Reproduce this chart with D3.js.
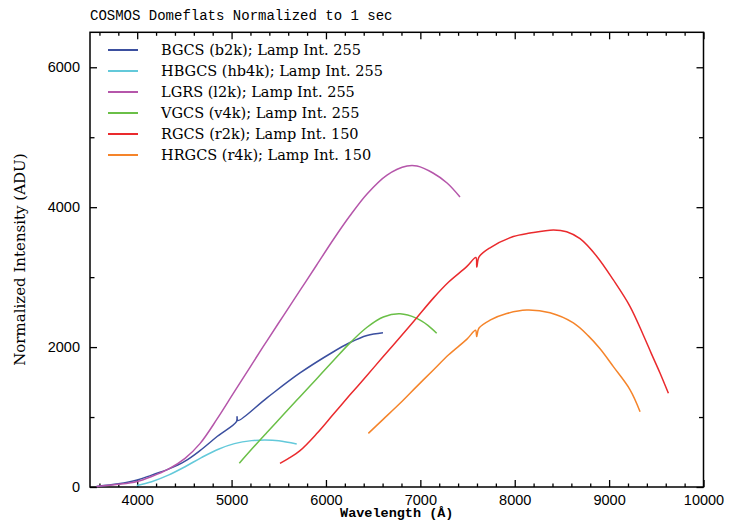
<!DOCTYPE html>
<html><head><meta charset="utf-8">
<script src="https://cdn.jsdelivr.net/npm/d3@7"></script>
<style>body{margin:0;background:#fff}svg{display:block}</style>
</head><body>
<svg id="c" width="737" height="527"></svg>
<script>
const title = "COSMOS Domeflats Normalized to 1 sec";
const xLabel = "Wavelength (Å)";
const yLabel = "Normalized Intensity (ADU)";
const xMajorTicks = [4000,5000,6000,7000,8000,9000,10000];
const yMajorTicks = [0,2000,4000,6000];

const seriesNames = [
  "BGCS (b2k); Lamp Int. 255",
  "HBGCS (hb4k); Lamp Int. 255",
  "LGRS (l2k); Lamp Int. 255",
  "VGCS (v4k); Lamp Int. 255",
  "RGCS (r2k); Lamp Int. 150",
  "HRGCS (r4k); Lamp Int. 150"
];
const seriesColors = ["#3b4f9f","#63c9da","#b556aa","#6abf47","#ea2a2d","#f5842a"];

// [wavelength, intensity]
const bgcs = [[3570,8],[3800,45],[4000,100],[4153,170],[4330,255],[4507,370],[4665,520],[4850,725],[5052,935],[5058,1005],[5066,950],[5375,1275],[5725,1630],[6075,1930],[6255,2065],[6435,2165],[6604,2205]];
const hbgcs = [[3995,20],[4153,76],[4330,170],[4507,290],[4680,420],[4860,540],[5030,620],[5213,663],[5354,672],[5500,662],[5690,615]];
const lgrs = [[3570,8],[3800,38],[4000,80],[4153,150],[4330,255],[4507,410],[4665,620],[4850,980],[5015,1330],[5200,1722],[5375,2090],[5550,2450],[5725,2810],[5900,3170],[6075,3531],[6250,3870],[6435,4190],[6647,4460],[6859,4589],[6965,4589],[7134,4489],[7283,4346],[7420,4146]];
const vgcs = [[5082,338],[5200,520],[5372,775],[5550,1035],[5725,1291],[5900,1545],[6075,1800],[6255,2060],[6432,2280],[6608,2430],[6785,2475],[6962,2410],[7080,2310],[7173,2197]];
const rgcs = [[5513,338],[5600,405],[5725,520],[5900,760],[6078,1040],[6250,1310],[6432,1590],[6600,1855],[6785,2140],[6962,2420],[7138,2700],[7300,2930],[7491,3150],[7588,3280],[7598,3140],[7622,3290],[7738,3420],[7985,3580],[8162,3630],[8409,3675],[8550,3650],[8692,3550],[8868,3300],[9045,2960],[9222,2580],[9363,2170],[9450,1900],[9539,1630],[9628,1340]];
const hrgcs = [[6449,767],[6600,960],[6785,1196],[6960,1435],[7138,1673],[7300,1890],[7491,2110],[7585,2240],[7597,2150],[7620,2270],[7738,2385],[7915,2480],[8127,2530],[8374,2490],[8621,2345],[8780,2160],[8904,1975],[9045,1720],[9222,1390],[9328,1077]];
const seriesData = [bgcs, hbgcs, lgrs, vgcs, rgcs, hrgcs];

const svg = d3.select("#c");
const L = 90, R = 703.5, T = 32.3, B = 487;
const x = d3.scaleLinear().domain([3500,10000]).range([L,R]);
const y = d3.scaleLinear().domain([0,6500]).range([B,T]);

const xMinor = d3.range(3600,10000,200).filter(v=>v%1000!==0);
const yMinor = [1000,3000,5000];

function tickStyle(g){ g.select(".domain").remove(); g.selectAll("line").attr("stroke","#000").attr("stroke-width",1.3); }

// bottom
svg.append("g").attr("transform",`translate(0,${B})`)
  .call(d3.axisBottom(x).tickValues(xMajorTicks).tickSize(-7).tickPadding(8).tickFormat(d3.format("d")))
  .call(tickStyle)
  .call(g=>g.selectAll("text").attr("font-family","Liberation Sans, Arial, sans-serif").attr("font-size",14.5).attr("fill","#000"));
svg.append("g").attr("transform",`translate(0,${B})`)
  .call(d3.axisBottom(x).tickValues(xMinor).tickSize(-3.5).tickFormat(""))
  .call(tickStyle);
// top
svg.append("g").attr("transform",`translate(0,${T})`)
  .call(d3.axisTop(x).tickValues(xMajorTicks).tickSize(-7).tickFormat("")).call(tickStyle);
svg.append("g").attr("transform",`translate(0,${T})`)
  .call(d3.axisTop(x).tickValues(xMinor).tickSize(-3.5).tickFormat("")).call(tickStyle);
// left
svg.append("g").attr("transform",`translate(${L},0)`)
  .call(d3.axisLeft(y).tickValues(yMajorTicks).tickSize(-7).tickPadding(10).tickFormat(d3.format("d")))
  .call(tickStyle)
  .call(g=>g.selectAll("text").attr("font-family","Liberation Sans, Arial, sans-serif").attr("font-size",14.5).attr("fill","#000"));
svg.append("g").attr("transform",`translate(${L},0)`)
  .call(d3.axisLeft(y).tickValues(yMinor).tickSize(-4.5).tickFormat("")).call(tickStyle);
// right
svg.append("g").attr("transform",`translate(${R},0)`)
  .call(d3.axisRight(y).tickValues(yMajorTicks).tickSize(-7).tickFormat("")).call(tickStyle);
svg.append("g").attr("transform",`translate(${R},0)`)
  .call(d3.axisRight(y).tickValues(yMinor).tickSize(-4.5).tickFormat("")).call(tickStyle);

// frame
svg.append("rect").attr("x",L).attr("y",T).attr("width",R-L).attr("height",B-T)
  .attr("fill","none").attr("stroke","#000").attr("stroke-width",1.5);

// curves
const line = d3.line().x(d=>x(d[0])).y(d=>y(d[1])).curve(d3.curveCatmullRom.alpha(0.5));
seriesData.forEach((s,i)=>{
  svg.append("path").datum(s).attr("d",line).attr("fill","none")
    .attr("stroke",seriesColors[i]).attr("stroke-width",1.5).attr("stroke-linejoin","round");
});

// legend
seriesNames.forEach((n,i)=>{
  const yy = 50 + i*21;
  svg.append("line").attr("x1",108).attr("x2",138).attr("y1",yy).attr("y2",yy)
    .attr("stroke",seriesColors[i]).attr("stroke-width",2);
  svg.append("text").attr("x",161).attr("y",yy+5).text(n)
    .attr("font-family","DejaVu Serif, serif").attr("font-size",14.5).attr("fill","#000");
});

// title & labels
svg.append("text").attr("x",90).attr("y",20).text(title)
  .attr("font-family","Liberation Mono, monospace").attr("font-size",14).attr("fill","#000");
svg.append("text").attr("x",(L+R)/2).attr("y",517).attr("text-anchor","middle").text(xLabel)
  .attr("font-family","Liberation Mono, monospace").attr("font-size",13.5).attr("font-weight","bold").attr("fill","#000");
svg.append("text").attr("transform",`translate(25,${(T+B)/2}) rotate(-90)`).attr("text-anchor","middle").text(yLabel)
  .attr("font-family","DejaVu Serif, serif").attr("font-size",15).attr("fill","#000");
</script>
</body></html>
